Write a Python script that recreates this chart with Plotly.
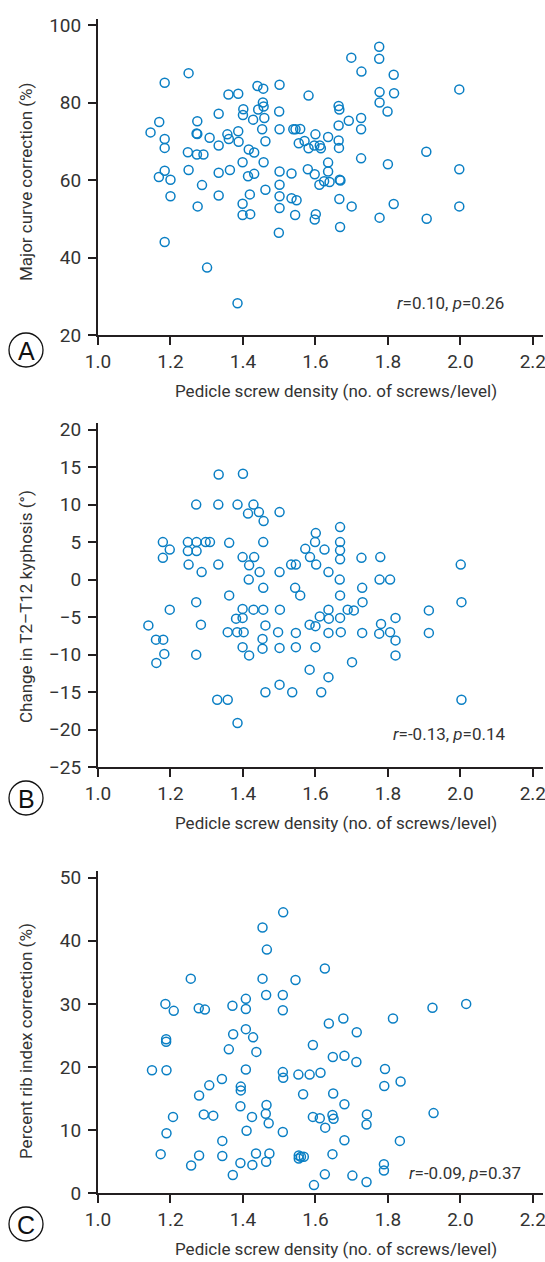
import plotly.graph_objects as go

# ---------------- data ----------------
xA = [1.776, 1.699, 1.776, 1.250, 1.727, 1.816, 1.184, 1.440, 1.456, 1.501, 1.997, 1.360, 1.387, 1.581,
      1.777, 1.817, 1.455, 1.777, 1.457, 1.664, 1.666, 1.401, 1.442, 1.500, 1.799, 1.333, 1.400, 1.428,
      1.459, 1.726, 1.169, 1.274, 1.692, 1.664, 1.145, 1.272, 1.274, 1.184, 1.308, 1.357, 1.361, 1.387,
      1.388, 1.453, 1.501, 1.539, 1.545, 1.558, 1.462, 1.554, 1.570, 1.600, 1.635, 1.664, 1.726, 1.184,
      1.248, 1.273, 1.291, 1.333, 1.416, 1.431, 1.581, 1.597, 1.612, 1.615, 1.665, 1.906, 1.726, 1.399,
      1.457, 1.635, 1.800, 1.184, 1.250, 1.364, 1.333, 1.431, 1.414, 1.501, 1.534, 1.579, 1.598, 1.635,
      1.997, 1.168, 1.200, 1.624, 1.639, 1.667, 1.669, 1.611, 1.287, 1.501, 1.462, 1.200, 1.333, 1.419,
      1.501, 1.534, 1.548, 1.666, 1.275, 1.399, 1.399, 1.420, 1.501, 1.544, 1.601, 1.598, 1.700, 1.777,
      1.816, 1.907, 1.997, 1.499, 1.668, 1.184, 1.301, 1.385]
yA = [94.4, 91.6, 91.3, 87.6, 88.0, 87.2, 85.1, 84.3, 83.6, 84.6, 83.4, 82.1, 82.3, 81.8,
      82.7, 82.4, 80.0, 80.0, 79.0, 79.1, 78.2, 78.3, 78.2, 77.7, 77.7, 77.1, 76.8, 75.6,
      76.0, 76.0, 75.0, 75.2, 75.3, 74.1, 72.3, 72.0, 71.9, 70.6, 70.9, 71.8, 70.6, 72.6,
      69.9, 73.1, 73.1, 73.1, 73.1, 73.2, 70.0, 69.5, 70.1, 71.8, 71.1, 70.2, 73.1, 68.3,
      67.2, 66.6, 66.6, 68.9, 67.9, 67.1, 68.2, 68.9, 68.9, 68.2, 68.3, 67.3, 65.6, 64.6,
      64.6, 64.5, 64.1, 62.4, 62.6, 62.6, 61.9, 61.6, 61.0, 62.2, 61.7, 62.8, 61.5, 62.2,
      62.8, 60.8, 60.1, 59.7, 59.5, 60.1, 59.9, 58.8, 58.7, 58.8, 57.5, 55.8, 56.0, 56.3,
      55.8, 55.3, 54.8, 55.1, 53.2, 53.9, 51.0, 51.2, 52.8, 51.0, 51.2, 49.8, 53.2, 50.3,
      53.8, 50.0, 53.2, 46.4, 47.9, 44.0, 37.4, 28.2]

xB = [1.333, 1.400, 1.271, 1.332, 1.385, 1.429, 1.414, 1.444, 1.457, 1.501, 1.668, 1.601, 1.179, 1.248,
      1.272, 1.297, 1.309, 1.362, 1.456, 1.599, 1.668, 1.198, 1.248, 1.272, 1.572, 1.625, 1.668, 1.179,
      1.399, 1.431, 1.585, 1.668, 1.727, 1.779, 1.250, 1.332, 1.417, 1.533, 1.546, 1.602, 2.001, 1.286,
      1.446, 1.501, 1.636, 1.416, 1.667, 1.777, 1.806, 1.456, 1.544, 1.729, 1.362, 1.558, 1.668, 1.271,
      1.730, 2.003, 1.198, 1.399, 1.429, 1.456, 1.502, 1.636, 1.689, 1.706, 1.913, 1.381, 1.399, 1.612,
      1.637, 1.668, 1.821, 1.139, 1.284, 1.462, 1.584, 1.600, 1.781, 1.358, 1.384, 1.402, 1.497, 1.546,
      1.636, 1.670, 1.729, 1.776, 1.806, 1.913, 1.160, 1.180, 1.454, 1.821, 1.399, 1.454, 1.501, 1.546,
      1.600, 1.183, 1.271, 1.417, 1.821, 1.161, 1.701, 1.584, 1.636, 1.501, 1.462, 1.536, 1.616, 1.329,
      1.358, 2.003, 1.385]
yB = [14.0, 14.1, 10.0, 10.0, 10.0, 10.0, 8.8, 9.0, 7.8, 9.0, 7.0, 6.2, 5.0, 5.0,
      5.0, 5.0, 5.0, 4.9, 5.0, 5.0, 5.0, 4.0, 3.8, 3.8, 4.1, 4.0, 3.9, 2.9,
      3.0, 3.0, 3.0, 2.7, 2.9, 3.0, 2.0, 2.0, 1.9, 2.0, 2.0, 2.0, 2.0, 1.0,
      1.0, 1.0, 1.0, 0.0, 0.0, 0.0, 0.0, -1.1, -1.1, -1.1, -2.1, -2.1, -2.1, -3.0,
      -3.0, -3.0, -4.0, -3.9, -4.0, -4.0, -4.0, -4.0, -4.0, -4.1, -4.1, -5.2, -5.1, -4.9,
      -5.2, -5.1, -5.1, -6.1, -6.0, -6.1, -6.0, -6.2, -5.9, -7.0, -7.0, -7.0, -7.0, -7.1,
      -7.1, -7.0, -7.1, -7.2, -7.0, -7.1, -8.0, -8.0, -7.9, -8.1, -9.0, -9.2, -9.1, -9.0,
      -9.0, -9.9, -10.0, -10.1, -10.1, -11.1, -11.0, -12.0, -13.0, -14.0, -15.0, -15.0, -15.0, -16.0,
      -16.0, -16.0, -19.1]

xC = [1.511, 1.454, 1.466, 1.626, 1.256, 1.454, 1.545, 1.464, 1.510, 1.408, 1.186, 2.016, 1.371, 1.209,
      1.278, 1.295, 1.408, 1.510, 1.923, 1.677, 1.814, 1.637, 1.714, 1.408, 1.373, 1.428, 1.188, 1.188,
      1.361, 1.437, 1.593, 1.648, 1.680, 1.713, 1.149, 1.189, 1.408, 1.510, 1.511, 1.553, 1.584, 1.614,
      1.792, 1.307, 1.342, 1.394, 1.394, 1.790, 1.835, 1.279, 1.566, 1.649, 1.393, 1.465, 1.680, 1.292,
      1.318, 1.207, 1.425, 1.463, 1.471, 1.593, 1.612, 1.647, 1.650, 1.742, 1.741, 1.926, 1.189, 1.410,
      1.510, 1.627, 1.343, 1.680, 1.833, 1.173, 1.279, 1.343, 1.436, 1.473, 1.554, 1.554, 1.560, 1.568,
      1.647, 1.257, 1.393, 1.426, 1.464, 1.789, 1.789, 1.372, 1.626, 1.702, 1.741, 1.596, 1.679]
yC = [44.5, 42.1, 38.6, 35.6, 34.0, 34.0, 33.8, 31.4, 31.4, 30.8, 30.0, 30.0, 29.7, 28.9,
      29.3, 29.1, 29.2, 29.0, 29.4, 27.7, 27.7, 26.9, 25.5, 26.0, 25.2, 24.7, 24.4, 24.0,
      22.8, 22.4, 23.5, 21.6, 21.8, 20.8, 19.5, 19.5, 19.6, 19.2, 18.3, 18.8, 18.8, 19.1,
      19.7, 17.1, 18.1, 16.9, 16.3, 17.0, 17.7, 15.5, 15.7, 15.8, 13.8, 14.0, 14.1, 12.5,
      12.3, 12.1, 12.1, 12.6, 11.1, 12.1, 11.9, 12.4, 11.8, 12.5, 10.9, 12.7, 9.5, 9.9,
      9.7, 10.4, 8.3, 8.4, 8.3, 6.2, 6.0, 5.9, 6.3, 6.3, 6.0, 5.5, 5.8, 5.8,
      6.2, 4.4, 4.8, 4.5, 5.0, 4.6, 3.6, 2.9, 3.0, 2.8, 1.8, 1.3, -0.1]

x_ticks = [1.0, 1.2, 1.4, 1.6, 1.8, 2.0, 2.2]
yA_ticks = [20, 40, 60, 80, 100]
yB_ticks = [-25, -20, -15, -10, -5, 0, 5, 10, 15, 20]
yC_ticks = [0, 10, 20, 30, 40, 50]

y_titles = ["Major curve correction (%)", "Change in T2\u2013T12 kyphosis (\u00b0)",
            "Percent rib index correction (%)"]
x_title = "Pedicle screw density (no. of screws/level)"
stats = ["<i>r</i>=0.10, <i>p</i>=0.26", "<i>r</i>=-0.13, <i>p</i>=0.14", "<i>r</i>=-0.09, <i>p</i>=0.37"]
letters = ["A", "B", "C"]

# ---------------- layout geometry (pixels) ----------------
W, H = 545, 1262
FONT = "Roboto, DejaVu Sans Condensed, sans-serif"
TXT = "#333333"
AX = "#231f20"
BLUE = "#0a7fc4"

def fy(px):
    return 1 - px / H

def fx(px):
    return px / W

xdom = [fx(98), fx(543)]
panels = [
    dict(top=19.3, bot=335.0, yr=[20, 101.5], ticks=yA_ticks, x=xA, y=yA, ytc=182, lc=350, st=303, stx=506),
    dict(top=422.8, bot=767.2, yr=[-25, 20.9], ticks=yB_ticks, x=xB, y=yB, ytc=607, lc=798, st=734, stx=508),
    dict(top=870.7, bot=1193.3, yr=[0, 51.1], ticks=yC_ticks, x=xC, y=yC, ytc=1041, lc=1224, st=1173, stx=523),
]

fig = go.Figure()
annotations = []
shapes = []
layout = {}
for i, p in enumerate(panels):
    n = "" if i == 0 else str(i + 1)
    fig.add_trace(go.Scatter(
        x=p["x"], y=p["y"], mode="markers", xaxis="x" + n, yaxis="y" + n,
        marker=dict(symbol="circle-open", size=9, color=BLUE, line=dict(width=1.5, color=BLUE)),
        showlegend=False, hoverinfo="x+y", cliponaxis=False))
    common = dict(showline=True, linecolor=AX, linewidth=2, ticks="outside", ticklen=8,
                  tickwidth=2, tickcolor=AX, showgrid=False, zeroline=False, automargin=False,
                  ticklabeloverflow="allow",
                  tickfont=dict(family=FONT, size=19, color=TXT))
    layout["xaxis" + n] = dict(domain=xdom, range=[1.0, 2.228], tickvals=x_ticks,
                               ticktext=["%.1f" % v for v in x_ticks],
                               anchor="y" + n, **common)
    layout["yaxis" + n] = dict(domain=[fy(p["bot"]), fy(p["top"])], range=p["yr"],
                               tickvals=p["ticks"], anchor="x" + n, ticklabelstandoff=3, **common)
    # y title
    annotations.append(dict(text=y_titles[i], xref="paper", yref="paper", x=fx(26), y=fy(p["ytc"]),
                            textangle=-90, showarrow=False, xanchor="center", yanchor="middle",
                            font=dict(family=FONT, size=17, color=TXT)))
    # x title
    annotations.append(dict(text=x_title, xref="paper", yref="paper", x=fx(336), y=fy(p["bot"] + 56),
                            showarrow=False, xanchor="center", yanchor="middle",
                            font=dict(family=FONT, size=17, color=TXT)))
    # stats
    annotations.append(dict(text=stats[i], xref="paper", yref="paper", x=fx(p["stx"]), y=fy(p["st"]),
                            showarrow=False, xanchor="right", yanchor="middle",
                            font=dict(family=FONT, size=17, color=TXT)))
    # panel letter
    cx, cy, r = 26, p["lc"], 17
    shapes.append(dict(type="circle", xref="paper", yref="paper", x0=fx(cx - r), x1=fx(cx + r),
                       y0=fy(cy + r), y1=fy(cy - r), line=dict(color="#111111", width=1.3)))
    annotations.append(dict(text=letters[i], xref="paper", yref="paper", x=fx(cx), y=fy(cy + 1),
                            showarrow=False, xanchor="center", yanchor="middle",
                            font=dict(family="Liberation Sans, Arial, sans-serif", size=25, color="#111111")))

fig.update_layout(width=W, height=H, margin=dict(l=0, r=0, t=0, b=0, pad=0, autoexpand=False),
                  paper_bgcolor="white", plot_bgcolor="white",
                  annotations=annotations, shapes=shapes, **layout)
fig.write_html("out.html", config={"displayModeBar": False},
               post_script="document.body.style.margin='0px';document.body.style.overflow='hidden';")
